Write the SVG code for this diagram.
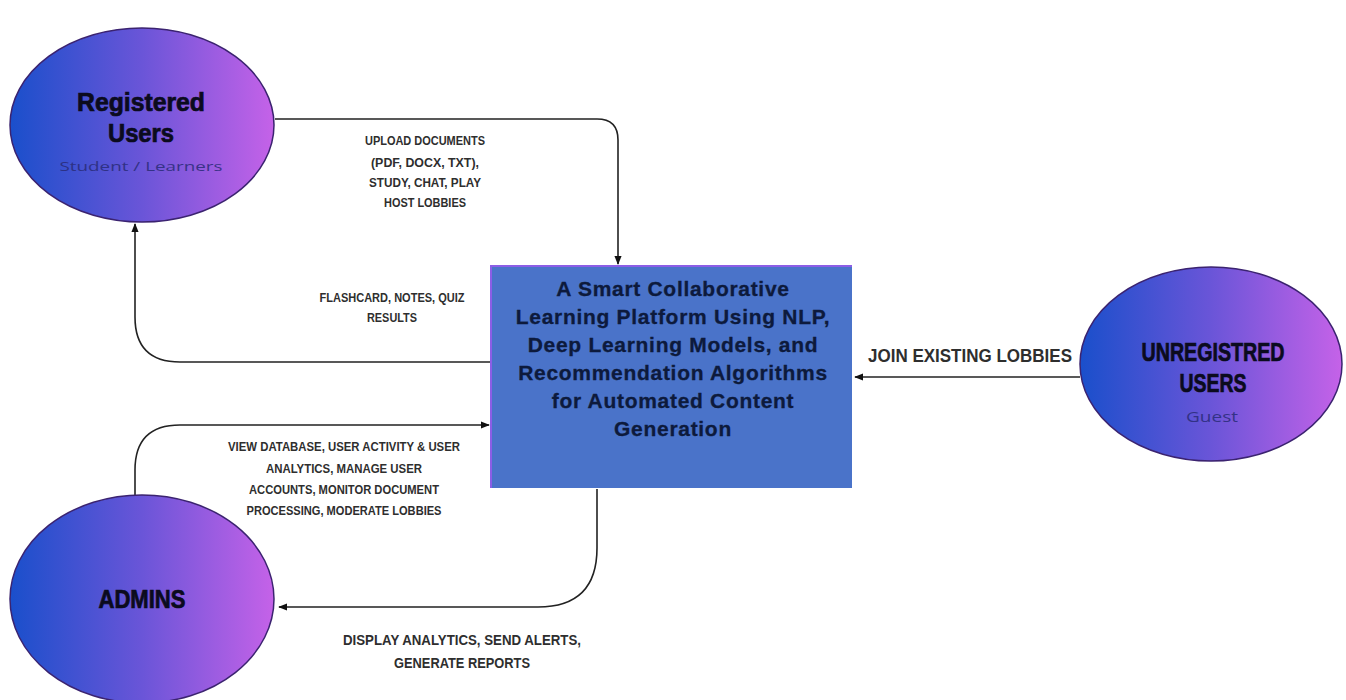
<svg xmlns="http://www.w3.org/2000/svg" width="1346" height="700" viewBox="0 0 1346 700">
<defs>
<linearGradient id="grad" x1="0" y1="0" x2="1" y2="0">
<stop offset="0" stop-color="#1a4fcb"/>
<stop offset="0.5" stop-color="#6a55d8"/>
<stop offset="1" stop-color="#c562e8"/>
</linearGradient>
<marker id="arr" viewBox="0 0 10 10" refX="9" refY="5" markerWidth="9" markerHeight="9" markerUnits="userSpaceOnUse" orient="auto">
<path d="M0,1 L10,5 L0,9 z" fill="#111"/>
</marker>
<style>
.ell{fill:url(#grad);stroke:#3b2370;stroke-width:1.5}
.title{font-family:"Liberation Sans",Arial,sans-serif;font-weight:bold;fill:#0b0b1e;stroke:#0b0b1e;stroke-width:0.7;text-anchor:middle}
.sub{font-family:"Open Sans","Liberation Sans",sans-serif;fill:#2a2c78;text-anchor:middle;opacity:0.85}
.lbl{font-family:"Liberation Sans",Arial,sans-serif;font-weight:bold;fill:#2e2e2e;text-anchor:middle}
.box{font-family:"Liberation Sans",Arial,sans-serif;font-weight:bold;fill:#0d1a3c;stroke:#0d1a3c;stroke-width:0.3;text-anchor:middle;font-size:21px;letter-spacing:0.7px}
.con{fill:none;stroke:#222;stroke-width:1.6}
</style>
</defs>
<rect width="1346" height="700" fill="#ffffff"/>

<g id="connectors">
<path class="con" d="M275 119 H597 Q618 119 618 140 V264" marker-end="url(#arr)"/>
<path class="con" d="M490 362 H180 Q135 362 135 317 V224" marker-end="url(#arr)"/>
<path class="con" d="M1080 377 H855" marker-end="url(#arr)"/>
<path class="con" d="M135 495 V470 Q135 425 180 425 H489" marker-end="url(#arr)"/>
<path class="con" d="M597 489 V548 Q597 607 538 607 H279" marker-end="url(#arr)"/>
<g id="connector-labels">
<text class="lbl" font-size="13" x="425" y="145" textLength="120" lengthAdjust="spacingAndGlyphs">UPLOAD DOCUMENTS</text>
<text class="lbl" font-size="13" x="425" y="167" textLength="108" lengthAdjust="spacingAndGlyphs">(PDF, DOCX, TXT),</text>
<text class="lbl" font-size="13" x="425" y="187" textLength="112" lengthAdjust="spacingAndGlyphs">STUDY, CHAT, PLAY</text>
<text class="lbl" font-size="13" x="425" y="207" textLength="82" lengthAdjust="spacingAndGlyphs">HOST LOBBIES</text>
<text class="lbl" font-size="13" x="392" y="302" textLength="145" lengthAdjust="spacingAndGlyphs">FLASHCARD, NOTES, QUIZ</text>
<text class="lbl" font-size="13" x="392" y="322" textLength="50" lengthAdjust="spacingAndGlyphs">RESULTS</text>
<text class="lbl" font-size="18" x="970" y="362" textLength="204" lengthAdjust="spacingAndGlyphs">JOIN EXISTING LOBBIES</text>
<text class="lbl" font-size="13" x="344" y="451" textLength="232" lengthAdjust="spacingAndGlyphs">VIEW DATABASE, USER ACTIVITY &amp; USER</text>
<text class="lbl" font-size="13" x="344" y="473" textLength="156" lengthAdjust="spacingAndGlyphs">ANALYTICS, MANAGE USER</text>
<text class="lbl" font-size="13" x="344" y="494" textLength="190" lengthAdjust="spacingAndGlyphs">ACCOUNTS, MONITOR DOCUMENT</text>
<text class="lbl" font-size="13" x="344" y="515" textLength="195" lengthAdjust="spacingAndGlyphs">PROCESSING, MODERATE LOBBIES</text>
<text class="lbl" font-size="14" x="462" y="645" textLength="238" lengthAdjust="spacingAndGlyphs">DISPLAY ANALYTICS, SEND ALERTS,</text>
<text class="lbl" font-size="14" x="462" y="668" textLength="136" lengthAdjust="spacingAndGlyphs">GENERATE REPORTS</text>
</g>
</g>

<g id="registered-users">
<ellipse class="ell" cx="142" cy="125" rx="132" ry="97"/>
<text class="title" font-size="25" x="141" y="111" textLength="128" lengthAdjust="spacingAndGlyphs">Registered</text>
<text class="title" font-size="25" x="141" y="142" textLength="66" lengthAdjust="spacingAndGlyphs">Users</text>
<text class="sub" font-size="13" x="141" y="171" textLength="163" lengthAdjust="spacingAndGlyphs">Student / Learners</text>
</g>

<g id="platform">
<rect x="491" y="266" width="361" height="222" fill="#4a73c9"/>
<path d="M491 488 V266 H852" fill="none" stroke="#8c5ee6" stroke-width="2"/>
<text class="box" x="673" y="296">A Smart Collaborative</text>
<text class="box" x="673" y="324">Learning Platform Using NLP,</text>
<text class="box" x="673" y="352">Deep Learning Models, and</text>
<text class="box" x="673" y="380">Recommendation Algorithms</text>
<text class="box" x="673" y="408">for Automated Content</text>
<text class="box" x="673" y="436">Generation</text>
</g>

<g id="unregistered-users">
<ellipse class="ell" cx="1211" cy="364" rx="131" ry="97"/>
<text class="title" font-size="25" x="1213" y="361" textLength="143" lengthAdjust="spacingAndGlyphs">UNREGISTRED</text>
<text class="title" font-size="25" x="1213" y="392" textLength="67" lengthAdjust="spacingAndGlyphs">USERS</text>
<text class="sub" font-size="15" x="1212" y="422" textLength="52" lengthAdjust="spacingAndGlyphs">Guest</text>
</g>

<g id="admins">
<ellipse class="ell" cx="142" cy="599" rx="132" ry="104"/>
<text class="title" font-size="25" x="142" y="608" textLength="87" lengthAdjust="spacingAndGlyphs">ADMINS</text>
</g>
</svg>
